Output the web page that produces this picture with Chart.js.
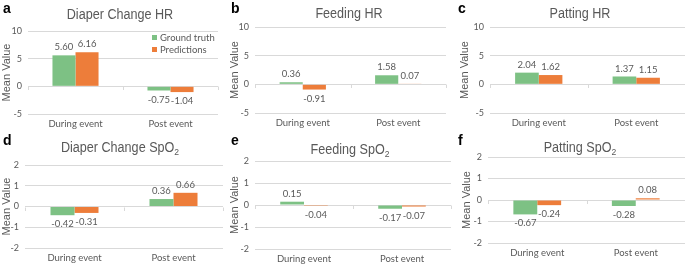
<!DOCTYPE html>
<html>
<head>
<meta charset="utf-8">
<script src="https://cdn.jsdelivr.net/npm/chart.js@4.4.1/dist/chart.umd.min.js"></script>
<style>
  body { margin: 0; background: #fff; }
  #wrap { position: relative; width: 685px; height: 264px; overflow: hidden; }
  .panel { position: absolute; }
  .panel canvas { position: absolute; left: 0; top: 0; }
  .letter { position: absolute; font: bold 14px "Liberation Sans", Arial, sans-serif; color: #000; line-height: 1; }
  .title { position: absolute; font: 14px "Liberation Sans", Arial, sans-serif; color: #595959; white-space: nowrap; line-height: 1; transform: translateX(-50%) scaleX(0.9); }
  .title sub { font-size: 9.5px; vertical-align: -3px; line-height: 0; }
  .legend { position: absolute; left: 152px; top: 32px; font: 9.5px Lato, sans-serif; color: #595959; line-height: 12px; }
  .legend span { display: inline-block; width: 5px; height: 5px; margin-right: 3px; vertical-align: 1px; }
</style>
</head>
<body>
<div id="wrap"></div>
<script>
// categories and series
const categories = ['During event', 'Post event'];
const seriesNames = ['Ground truth', 'Predictions'];
const seriesColors = ['#7dc184', '#ed7d3a'];

// values
const diaperHrTruth = [5.60, -0.75];
const diaperHrPred = [6.16, -1.04];
const feedingHrTruth = [0.36, 1.58];
const feedingHrPred = [-0.91, 0.07];
const pattingHrTruth = [2.04, 1.37];
const pattingHrPred = [1.62, 1.15];
const diaperSpo2Truth = [-0.42, 0.36];
const diaperSpo2Pred = [-0.31, 0.66];
const feedingSpo2Truth = [0.15, -0.17];
const feedingSpo2Pred = [-0.04, -0.07];
const pattingSpo2Truth = [-0.67, -0.28];
const pattingSpo2Pred = [-0.24, 0.08];

// y tick labels
const hrTicks = [-5, 0, 5, 10];
const spo2Ticks = [-2, -1, 0, 1, 2];

// panel boxes and plot areas (page pixels)
const panels = [
  { letter: 'a', title: 'Diaper Change HR', truth: diaperHrTruth, pred: diaperHrPred, ticks: hrTicks,
    box: [0, 0, 228, 132], plot: [28, 218, 31, 114], titleAt: [120, 7], yTitlePad: 0, legend: true },
  { letter: 'b', title: 'Feeding HR', truth: feedingHrTruth, pred: feedingHrPred, ticks: hrTicks,
    box: [228, 0, 227, 132], plot: [255, 446, 27, 113], titleAt: [349, 6], yTitlePad: 0 },
  { letter: 'c', title: 'Patting HR', truth: pattingHrTruth, pred: pattingHrPred, ticks: hrTicks,
    box: [455, 0, 230, 132], plot: [490, 685, 27, 113], titleAt: [580, 6], yTitlePad: 3 },
  { letter: 'd', title: 'Diaper Change SpO<sub>2</sub>', truth: diaperSpo2Truth, pred: diaperSpo2Pred, ticks: spo2Ticks,
    box: [0, 132, 228, 132], plot: [25, 223, 165, 248], titleAt: [120, 140], yTitlePad: 0 },
  { letter: 'e', title: 'Feeding SpO<sub>2</sub>', truth: feedingSpo2Truth, pred: feedingSpo2Pred, ticks: spo2Ticks,
    box: [228, 132, 227, 132], plot: [255, 451, 161, 249], titleAt: [350, 142], yTitlePad: 0 },
  { letter: 'f', title: 'Patting SpO<sub>2</sub>', truth: pattingSpo2Truth, pred: pattingSpo2Pred, ticks: spo2Ticks,
    box: [455, 132, 230, 132], plot: [488, 685, 157, 243], titleAt: [580, 140], yTitlePad: 5 }
];

const textGrey = '#595959';
const gridGrey = '#d9d9d9';

// value labels above/below bars, and small category ticks on the zero line
const valueLabels = {
  id: 'valueLabels',
  afterDatasetsDraw(chart) {
    const ctx = chart.ctx;
    const x = chart.scales.x, y = chart.scales.y;
    const y0 = y.getPixelForValue(0);
    ctx.save();
    ctx.strokeStyle = gridGrey;
    ctx.lineWidth = 1;
    for (let i = 0; i <= categories.length; i++) {
      const px = Math.round(x.getPixelForValue(i - 0.5)) + 0.5;
      ctx.beginPath();
      ctx.moveTo(px, Math.round(y0) + 0.5);
      ctx.lineTo(px, Math.round(y0) + 4);
      ctx.stroke();
    }
    ctx.fillStyle = textGrey;
    ctx.font = '9.5px Lato, sans-serif';
    ctx.textAlign = 'center';
    ctx.textBaseline = 'middle';
    chart.data.datasets.forEach((ds, di) => {
      chart.getDatasetMeta(di).data.forEach((bar, i) => {
        const v = ds.data[i];
        const ty = v >= 0 ? bar.y - 8 : bar.y + 9;
        ctx.fillText(v.toFixed(2), bar.x, ty);
      });
    });
    ctx.restore();
  }
};

const wrap = document.getElementById('wrap');

panels.forEach(p => {
  const [bx, by, bw, bh] = p.box;
  const [pl, pr, pt, pb] = p.plot;
  const div = document.createElement('div');
  div.className = 'panel';
  div.style.left = bx + 'px';
  div.style.top = by + 'px';
  div.style.width = bw + 'px';
  div.style.height = bh + 'px';
  const canvas = document.createElement('canvas');
  canvas.width = bw;
  canvas.height = bh;
  div.appendChild(canvas);
  wrap.appendChild(div);

  const letter = document.createElement('div');
  letter.className = 'letter';
  letter.textContent = p.letter;
  letter.style.left = (bx + 3) + 'px';
  letter.style.top = (by + 1) + 'px';
  wrap.appendChild(letter);

  const title = document.createElement('div');
  title.className = 'title';
  title.innerHTML = p.title;
  title.style.left = p.titleAt[0] + 'px';
  title.style.top = p.titleAt[1] + 'px';
  wrap.appendChild(title);

  const yW = pl - bx;
  const xH = by + bh - pb;
  const ticks = p.ticks;

  new Chart(canvas, {
    type: 'bar',
    data: {
      labels: categories,
      datasets: [
        { label: seriesNames[0], data: p.truth, backgroundColor: seriesColors[0] },
        { label: seriesNames[1], data: p.pred, backgroundColor: seriesColors[1] }
      ]
    },
    options: {
      responsive: false,
      animation: false,
      events: [],
      layout: { padding: { left: 0, right: bx + bw - pr, top: pt - by, bottom: 0 } },
      datasets: { bar: { categoryPercentage: 0.485, barPercentage: 1 } },
      plugins: { legend: { display: false }, tooltip: { enabled: false } },
      scales: {
        x: {
          grid: { display: false, drawTicks: false, tickLength: 0 },
          border: { display: false },
          ticks: { color: textGrey, font: { family: 'Lato', size: 9.5 }, padding: 4 },
          afterFit(s) { s.height = xH; }
        },
        y: {
          min: ticks[0],
          max: ticks[ticks.length - 1],
          afterBuildTicks(s) { s.ticks = ticks.map(v => ({ value: v })); },
          grid: { color: gridGrey, drawTicks: false },
          border: { display: false },
          ticks: { color: textGrey, font: { family: 'Lato', size: 9 }, padding: 6 },
          title: { display: true, text: 'Mean Value', color: textGrey,
                   font: { family: 'Liberation Sans', size: 11 }, padding: { top: p.yTitlePad, bottom: 0 } },
          afterFit(s) { s.width = yW; }
        }
      }
    },
    plugins: [valueLabels]
  });

  if (p.legend) {
    const lg = document.createElement('div');
    lg.className = 'legend';
    lg.innerHTML = seriesNames.map((n, i) =>
      '<div><span style="background:' + seriesColors[i] + '"></span>' + n + '</div>').join('');
    wrap.appendChild(lg);
  }
});
</script>
</body>
</html>
